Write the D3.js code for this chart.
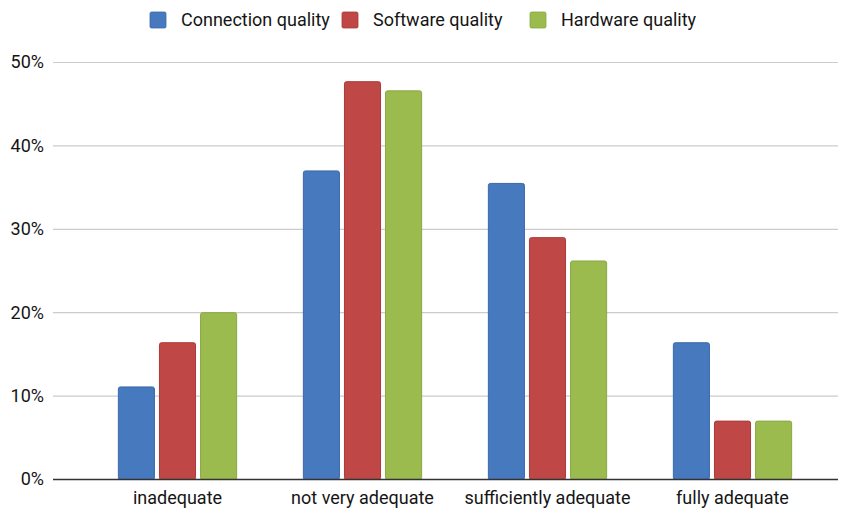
<!DOCTYPE html>
<html>
<head>
<meta charset="utf-8">
<script src="https://cdn.jsdelivr.net/npm/d3@7"></script>
<style>
  html, body { margin: 0; padding: 0; background: #fff; }
  svg { display: block; font-family: Roboto, "Noto Sans", sans-serif; }
</style>
</head>
<body>
<svg id="chart" width="847" height="509"></svg>
<script>
// Survey answers by category, share of respondents (%)
const categories = ["inadequate", "not very adequate", "sufficiently adequate", "fully adequate"];
const seriesNames = ["Connection quality", "Software quality", "Hardware quality"];
const connectionQuality = [11.1, 37.0, 35.5, 16.4];
const softwareQuality = [16.4, 47.7, 29.0, 7.0];
const hardwareQuality = [20.0, 46.6, 26.2, 7.0];
const yTicks = [0, 10, 20, 30, 40, 50];

const seriesValues = [connectionQuality, softwareQuality, hardwareQuality];
const fills = ["#4679bd", "#bf4846", "#9bbb4f"];
const strokes = ["#3a69aa", "#a93a38", "#88a843"];

const svg = d3.select("#chart");
const gridLeft = 53, gridRight = 838;
const fontSize = 18;
const textColor = "#151515";

const x = d3.scaleBand().domain(categories).range([85, 825]).paddingInner(0).paddingOuter(0);
const inner = d3.scaleBand().domain(seriesNames).range([0, x.bandwidth()]).paddingInner(0.0976).paddingOuter(0.8);
const y = d3.scaleLinear().domain([0, 50]).range([479, 62]);

// Horizontal gridlines
svg.append("g").selectAll("line").data(yTicks.filter(t => t > 0)).join("line")
  .attr("x1", gridLeft).attr("x2", gridRight)
  .attr("y1", d => y(d) + 0.5).attr("y2", d => y(d) + 0.5)
  .attr("stroke", "#cccccc").attr("stroke-width", 1.2);

// Y axis tick labels
svg.append("g").selectAll("text").data(yTicks).join("text")
  .attr("x", 44).attr("y", d => y(d)).attr("dy", "0.36em")
  .attr("text-anchor", "end").attr("font-size", fontSize).attr("fill", textColor)
  .text(d => d + "%");

// Bars
const groups = svg.append("g").selectAll("g").data(categories).join("g")
  .attr("transform", c => `translate(${x(c)},0)`);
groups.selectAll("rect").data((c, ci) => seriesNames.map((s, si) => ({ s, si, v: seriesValues[si][ci] })))
  .join("rect")
  .attr("x", d => inner(d.s) + 0.5)
  .attr("y", d => y(d.v) + 0.5)
  .attr("width", inner.bandwidth() - 1)
  .attr("height", d => y(0) - y(d.v))
  .attr("rx", 2).attr("ry", 2)
  .attr("fill", d => fills[d.si])
  .attr("stroke", d => strokes[d.si]).attr("stroke-width", 1);

// Baseline
svg.append("line")
  .attr("x1", gridLeft).attr("x2", gridRight)
  .attr("y1", y(0) + 0.5).attr("y2", y(0) + 0.5)
  .attr("stroke", "#333").attr("stroke-width", 1.5);

// Category labels
svg.append("g").selectAll("text").data(categories).join("text")
  .attr("x", c => x(c) + x.bandwidth() / 2).attr("y", 504)
  .attr("text-anchor", "middle").attr("font-size", fontSize).attr("fill", textColor)
  .text(c => c);

// Legend
const legendX = [150, 342, 530];
const legend = svg.append("g").selectAll("g").data(seriesNames).join("g")
  .attr("transform", (d, i) => `translate(${legendX[i]},12)`);
legend.append("rect").attr("width", 16).attr("height", 16).attr("rx", 1.5)
  .attr("fill", (d, i) => fills[i]).attr("stroke", (d, i) => strokes[i]).attr("stroke-width", 0.8);
legend.append("text").attr("x", 31).attr("y", 8).attr("dy", "0.36em")
  .attr("font-size", fontSize).attr("fill", textColor).text(d => d);
</script>
</body>
</html>
